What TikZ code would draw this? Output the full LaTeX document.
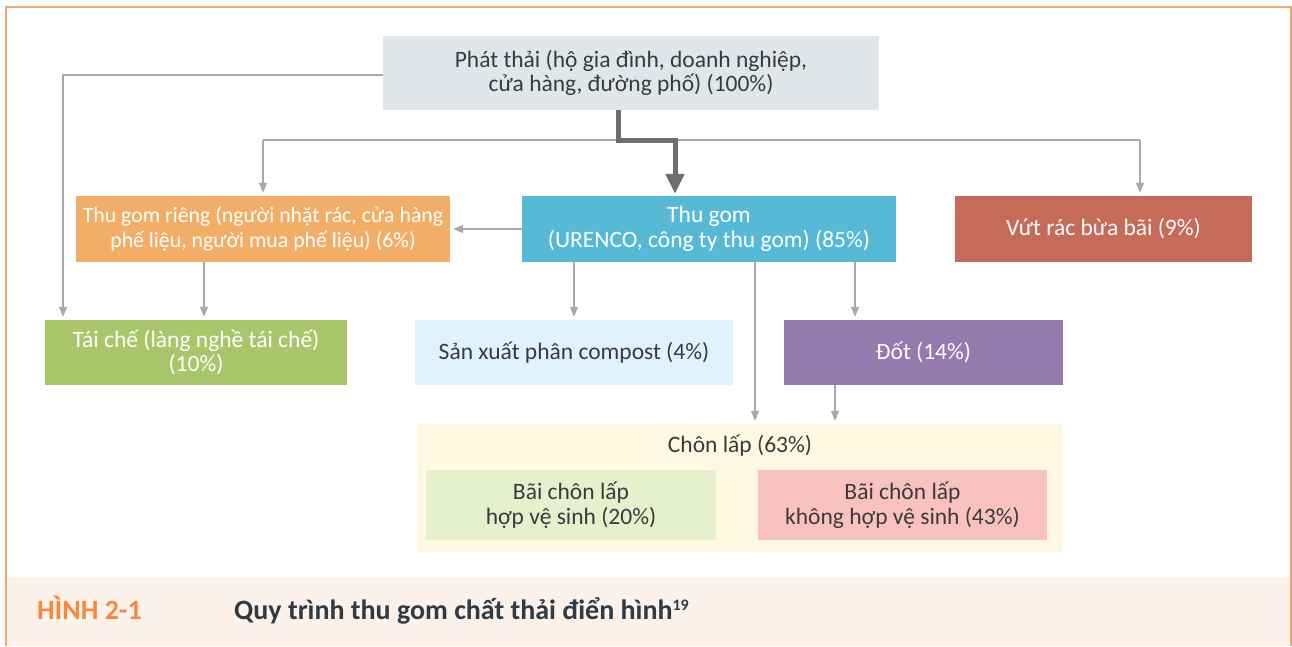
\documentclass[tikz,border=0pt]{standalone}
\usepackage{fontspec}
\setmainfont{Carlito}
\usetikzlibrary{arrows.meta,positioning,calc}
\definecolor{frameor}{HTML}{F4A46E}
\definecolor{bandbg}{HTML}{FDF2EA}
\definecolor{topgray}{HTML}{E1E6E9}
\definecolor{orfill}{HTML}{F2AE66}
\definecolor{bluefill}{HTML}{56BAD6}
\definecolor{redfill}{HTML}{C66B5A}
\definecolor{greenfill}{HTML}{A9C66B}
\definecolor{ltblue}{HTML}{E0F2FC}
\definecolor{purplefill}{HTML}{957BAD}
\definecolor{ltyellow}{HTML}{FFF9E3}
\definecolor{ltgreen}{HTML}{E6F0CC}
\definecolor{pinkfill}{HTML}{F9C2BE}
\definecolor{linegray}{HTML}{A7A9AC}
\definecolor{darkarrow}{HTML}{6D6E71}
\definecolor{txtdark}{HTML}{3A3A3C}
\definecolor{capor}{HTML}{F58A3C}
\definecolor{capdark}{HTML}{2F3A44}
\tikzset{
  box/.style={rectangle, inner sep=0pt, align=center, font=\fontsize{23.5}{24.5}\selectfont},
  darktext/.style={text=txtdark},
  whitetext/.style={text=white},
  arr/.style={draw=linegray, line width=1.4pt, -{Triangle[length=10pt,width=8pt]}, shorten >=3pt},
  plain/.style={draw=linegray, line width=1.4pt},
  bigarr/.style={draw=darkarrow, line width=5pt, -{Triangle[length=20pt,width=18pt]}, shorten >=2pt},
  captext/.style={anchor=base west, inner sep=0pt, font=\fontsize{28}{32}\selectfont\bfseries},
}
\begin{document}
\begin{tikzpicture}[x=1pt,y=-1pt]
\useasboundingbox (0,0) rectangle (1292,646);
\fill[white] (0,0) rectangle (1292,646);
% caption band and frame
\fill[bandbg] (6,577) rectangle (1291,646);
\draw[frameor, line width=1.5pt] (6,646) -- (6,7) -- (1291,7) -- (1291,646);
% nodes
\node[box, darktext, fill=topgray, minimum width=496pt, minimum height=74pt] (top) at (631,73) {Phát thải (hộ gia đình, doanh nghiệp,\\cửa hàng, đường phố) (100\%)};
\node[box, whitetext, fill=orfill, minimum width=374pt, minimum height=66pt, font=\fontsize{21.8}{24.5}\selectfont] (rieng) at (263,229) {Thu gom riêng (người nhặt rác, cửa hàng\\phế liệu, người mua phế liệu) (6\%)};
\node[box, whitetext, fill=bluefill, minimum width=374pt, minimum height=66pt] (thugom) at (709,229) {Thu gom\\(URENCO, công ty thu gom) (85\%)};
\node[box, whitetext, fill=redfill, minimum width=297pt, minimum height=66pt] (vutrac) at (1103.5,229) {Vứt rác bừa bãi (9\%)};
\node[box, whitetext, fill=greenfill, minimum width=302pt, minimum height=65pt] (taiche) at (196,352.5) {Tái chế (làng nghề tái chế)\\(10\%)};
\node[box, darktext, fill=ltblue, minimum width=318pt, minimum height=65pt] (compost) at (574,352.5) {Sản xuất phân compost (4\%)};
\node[box, whitetext, fill=purplefill, minimum width=279pt, minimum height=65pt] (dot) at (923.5,352.5) {Đốt (14\%)};
\node[box, fill=ltyellow, minimum width=646pt, minimum height=128pt] (chonlap) at (740,488) {};
\node[box, darktext, anchor=center] (chonlaplbl) at (740,446) {Chôn lấp (63\%)};
\node[box, darktext, fill=ltgreen, minimum width=290pt, minimum height=70pt] (hvs) at (571,505) {Bãi chôn lấp\\hợp vệ sinh (20\%)};
\node[box, darktext, fill=pinkfill, minimum width=289pt, minimum height=70pt] (khvs) at (902.5,505) {Bãi chôn lấp\\không hợp vệ sinh (43\%)};
% caption
\node[captext, text=capor] (hinh) at (37,619) {HÌNH 2-1};
\node[captext, text=capdark] (captxt) at (234,619) {Quy trình thu gom chất thải điển hình\raisebox{9pt}{\fontsize{16}{16}\selectfont 19}};
% connectors
\coordinate (lc) at (63,75);
\draw[arr] (top.west |- lc) -- (lc) -- (lc |- taiche.north);
\coordinate (b1) at (263,140);
\coordinate (b2) at (1140,140);
\draw[plain] (b1) -- (b2);
\draw[arr] (b1) -- (b1 |- rieng.north);
\draw[arr] (b2) -- (b2 |- vutrac.north);
\coordinate (k1) at (618,140);
\coordinate (k2) at (675,140);
\draw[bigarr] (k1 |- top.south) -- (k1) -- (k2) -- (k2 |- thugom.north);
\draw[arr] (thugom.west) -- (rieng.east);
\coordinate (r1) at (204,0);
\draw[arr] (r1 |- rieng.south) -- (r1 |- taiche.north);
\draw[arr] (compost.north |- thugom.south) -- (compost.north);
\coordinate (c1) at (755,0);
\draw[arr] (c1 |- thugom.south) -- (c1 |- chonlap.north);
\coordinate (c2) at (855,0);
\draw[arr] (c2 |- thugom.south) -- (c2 |- dot.north);
\coordinate (c3) at (835,0);
\draw[arr] (c3 |- dot.south) -- (c3 |- chonlap.north);
\end{tikzpicture}
\end{document}
